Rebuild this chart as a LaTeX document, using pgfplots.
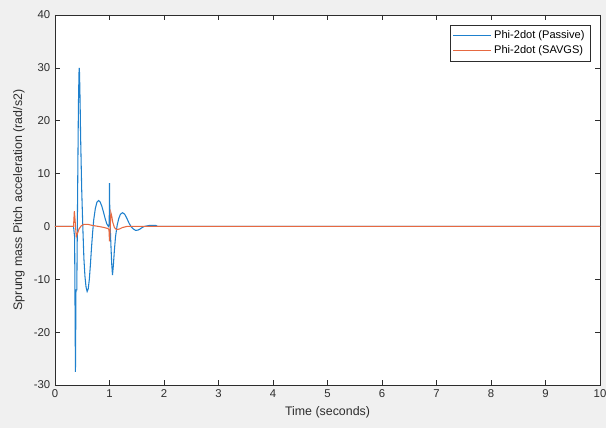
\documentclass[border=0pt]{standalone}
\usepackage{pgfplots}
\pgfplotsset{compat=1.18}
\usepackage{fontspec}
\setmainfont{Liberation Sans}
\definecolor{figbg}{RGB}{240,240,240}
\definecolor{mblue}{RGB}{30,128,205}
\definecolor{morange}{RGB}{230,105,65}
\definecolor{axgray}{RGB}{45,45,45}
\begin{document}
\begin{tikzpicture}
\path[use as bounding box, fill=figbg] (-41.25pt,-32.25pt) rectangle (413.25pt,288.75pt);
\begin{axis}[
  scale only axis, width=408.75pt, height=277.5pt,
  xmin=0, xmax=10, ymin=-30, ymax=40,
  xtick={0,1,...,10}, ytick={-30,-20,...,40},
  axis background/.style={fill=white},
  axis line style={axgray, line width=0.5pt},
  tick style={axgray, line width=0.5pt},
  major tick length=4pt,
  ticklabel style={font=\fontsize{8.5}{10}\selectfont, text=axgray},
  /pgf/number format/assume math mode=true,
  xlabel={Time (seconds)},
  ylabel={Sprung mass Pitch acceleration (rad/s2)},
  label style={font=\fontsize{9.3}{11}\selectfont, text=axgray},
  legend style={at={(0.982,0.973)}, anchor=north east, draw=axgray, fill=white,
    font=\fontsize{8.3}{10}\selectfont, inner sep=2pt},
  legend cell align=left,
  legend image code/.code={\draw[#1] (0cm,0cm) -- (1cm,0cm);},
]
\addplot[mblue, line width=0.8pt] coordinates {
(0,0)(0.34,0)(0.36,-2)(0.375,-27.5)(0.385,-12)(0.40,-12)(0.41,0)(0.42,12)(0.43,23)(0.44,29)(0.445,30)(0.45,29)(0.46,24)(0.47,17)(0.49,7)(0.51,0)(0.53,-6)(0.55,-9.5)(0.57,-11.5)(0.59,-12.3)(0.61,-11.8)(0.63,-10)(0.65,-7.2)(0.67,-4)(0.69,-1.2)(0.71,1.2)(0.74,3.4)(0.77,4.6)(0.80,4.9)(0.83,4.6)(0.86,3.8)(0.89,2.7)(0.92,1.5)(0.95,0.5)(0.98,0)(0.995,0.5)(1.0,8.2)(1.005,3)(1.02,-2)(1.04,-7)(1.055,-9.2)(1.07,-7.5)(1.09,-4.5)(1.11,-2)(1.14,0.2)(1.17,1.5)(1.20,2.3)(1.24,2.6)(1.28,2.3)(1.32,1.5)(1.36,0.6)(1.40,-0.1)(1.44,-0.5)(1.48,-0.75)(1.52,-0.7)(1.56,-0.5)(1.60,-0.2)(1.64,0)(1.74,0.2)(1.85,0.2)(1.88,0)(10,0)
};
\addlegendentry{Phi-2dot (Passive)}
\addplot[morange, line width=0.8pt] coordinates {
(0,0)(0.34,0)(0.355,2.9)(0.37,1)(0.39,-1.9)(0.41,-1.4)(0.44,-0.5)(0.48,0.1)(0.53,0.4)(0.6,0.4)(0.68,0.2)(0.8,0)(0.9,-0.2)(0.97,-0.4)(0.99,-0.6)(1.0,-2.8)(1.01,-1)(1.025,2.6)(1.04,2)(1.06,0.8)(1.09,-0.2)(1.13,-0.6)(1.18,-0.5)(1.24,-0.2)(1.32,0)(10,0)
};
\addlegendentry{Phi-2dot (SAVGS)}
\end{axis}
\end{tikzpicture}
\end{document}
